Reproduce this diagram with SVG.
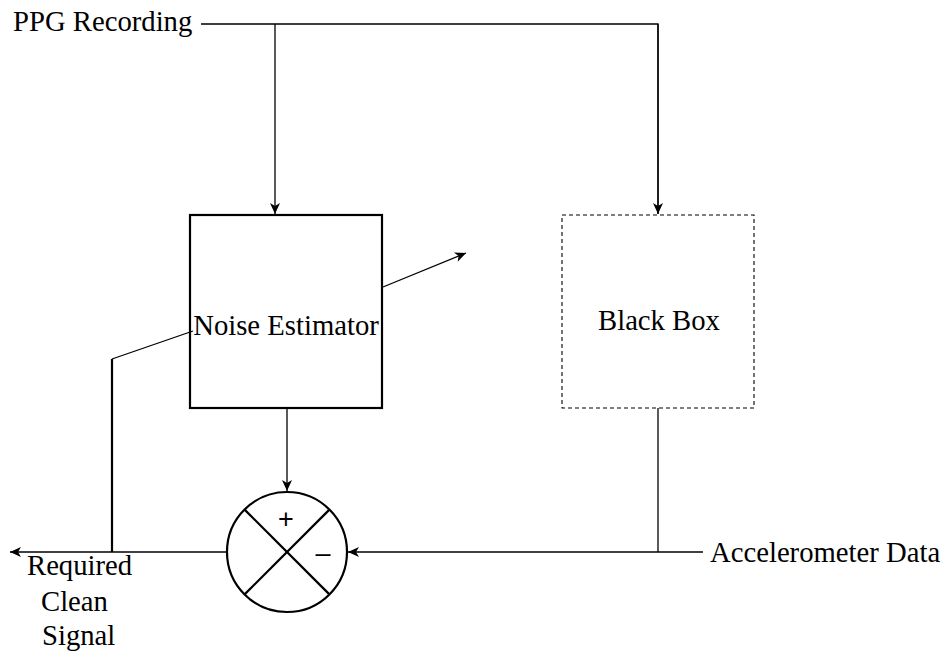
<svg xmlns="http://www.w3.org/2000/svg" width="943" height="654" viewBox="0 0 943 654">
  <style>
    .lbl { font-family: "Liberation Serif", "Times New Roman", serif; font-size: 28.7px; fill: #000; }
    .sign { font-family: "Liberation Sans", Arial, sans-serif; font-size: 27px; fill: #000; }
    .wire { fill: none; stroke: #000; stroke-width: 1.3; }
    .thick { fill: none; stroke: #000; stroke-width: 2.2; }
  </style>
  <defs>
    <marker id="arrow" markerUnits="userSpaceOnUse" markerWidth="14" markerHeight="12" viewBox="-11 -6 12 12" refX="0" refY="0" orient="auto">
      <path d="M-11,-5 L0,0 L-11,5 L-8,0 Z" fill="#000"/>
    </marker>
  </defs>
  <rect width="943" height="654" fill="#fff"/>

  <!-- connectors -->
  <g id="connectors">
    <!-- PPG input split to both blocks -->
    <polyline class="wire" points="201,24 658,24 658,214"/>
    <line class="wire" x1="275" y1="24" x2="275" y2="214" marker-end="url(#arrow)"/>
    <line class="wire" x1="658" y1="24" x2="658" y2="214" marker-end="url(#arrow)"/>
    <!-- adaptation arrow across estimator -->
    <line class="wire" x1="383" y1="287" x2="466" y2="253" marker-end="url(#arrow)"/>
    <!-- estimator output to summing junction -->
    <line class="wire" x1="287" y1="408" x2="287" y2="491" marker-end="url(#arrow)"/>
    <!-- accelerometer path into summing junction -->
    <line class="wire" x1="703" y1="552" x2="348" y2="552" marker-end="url(#arrow)"/>
    <line class="wire" x1="658" y1="408" x2="658" y2="552"/>
    <!-- clean output -->
    <line class="wire" x1="227" y1="552" x2="10" y2="552" marker-end="url(#arrow)"/>
    <!-- error feedback to estimator -->
    <line class="thick" x1="112" y1="552" x2="112" y2="359"/>
    <line class="wire" x1="112" y1="359" x2="193" y2="331"/>
  </g>

  <g id="ppg">
    <text class="lbl" x="13" y="31">PPG Recording</text>
  </g>

  <g id="noise-estimator">
    <rect class="thick" x="190" y="215" width="192" height="193" fill="none"/>
    <text class="lbl" x="286" y="335" text-anchor="middle">Noise Estimator</text>
  </g>

  <g id="black-box">
    <rect x="562" y="215" width="192" height="193" fill="none" stroke="#000" stroke-width="1.1" stroke-dasharray="4,3"/>
    <text class="lbl" x="659" y="330" text-anchor="middle">Black Box</text>
  </g>

  <g id="sum">
    <circle class="thick" cx="287" cy="552" r="60"/>
    <line class="thick" x1="244.6" y1="509.6" x2="329.4" y2="594.4"/>
    <line class="thick" x1="329.4" y1="509.6" x2="244.6" y2="594.4"/>
    <text class="sign" x="286" y="528" text-anchor="middle">+</text>
    <text class="sign" x="323" y="562" text-anchor="middle">–</text>
  </g>

  <g id="accelerometer">
    <text class="lbl" x="710" y="562">Accelerometer Data</text>
  </g>

  <g id="output">
    <text class="lbl" x="27" y="575">Required</text>
    <text class="lbl" x="41" y="611">Clean</text>
    <text class="lbl" x="42" y="645">Signal</text>
  </g>
</svg>
